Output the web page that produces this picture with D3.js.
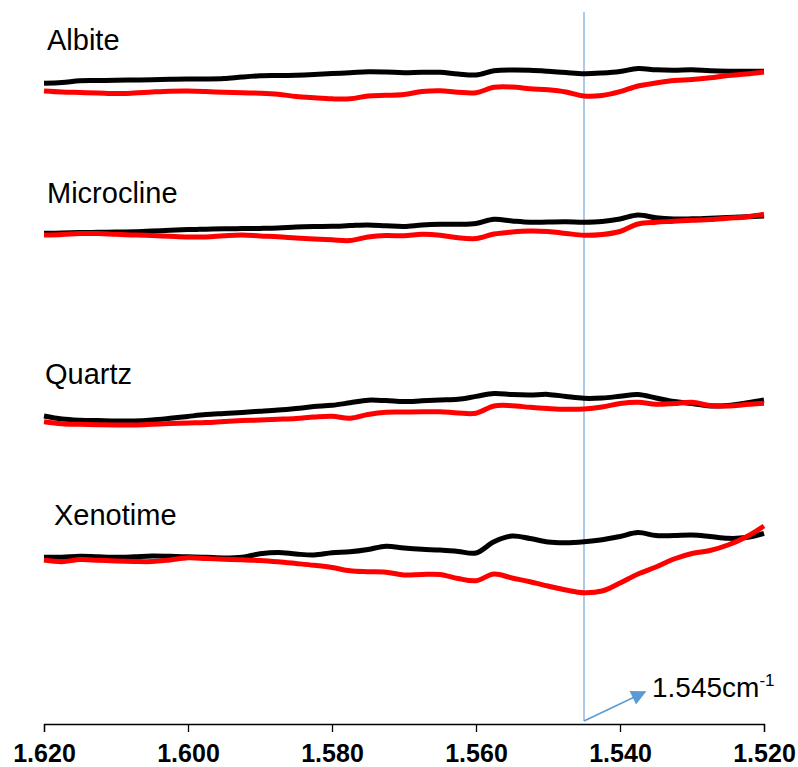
<!DOCTYPE html>
<html>
<head>
<meta charset="utf-8">
<script src="https://cdn.jsdelivr.net/npm/d3@7"></script>
<style>
  body { margin: 0; background: #fff; }
  svg { display: block; font-family: "Liberation Sans", Arial, sans-serif; }
</style>
</head>
<body>
<svg id="chart" width="798" height="767"></svg>
<script>
var wavenumbers = d3.range(41).map(function(i) { return +(1.620 - i * 0.0025).toFixed(4); });

var minerals = ["Albite", "Microcline", "Quartz", "Xenotime"];

var albiteBlack = [640.7, 641.5, 643.3, 643.5, 643.7, 644, 644.3, 644.7, 645, 645, 645.4, 647, 648.2, 648.5, 648.8, 649.5, 650.5, 651.2, 652.2, 652, 651.3, 651.8, 651.7, 650, 649, 653.2, 654, 653.7, 652.7, 651.4, 650.3, 651, 652.5, 655.5, 654.2, 653.8, 654.3, 653.2, 652.7, 652.7, 652.7];
var albiteRed = [633, 632, 631.5, 631, 630.4, 631, 632, 632.8, 633, 632.5, 631.7, 631.2, 630.8, 629.8, 627.5, 626.2, 625.2, 625.2, 628, 628.7, 629.5, 632.5, 633.3, 631.7, 631.3, 636.7, 637, 635.3, 634.2, 632, 628, 628.5, 632.3, 638, 641, 643.5, 644.5, 646.2, 648.5, 650, 652];

var microclineBlack = [490.7, 491, 491.4, 491.7, 492, 492.3, 493, 493.7, 494.4, 494.8, 495.2, 495.4, 495.6, 496, 497, 497.5, 497.7, 498.4, 499, 498.2, 497.5, 499, 499.7, 499.7, 500.5, 504.7, 503, 501.7, 502, 502.2, 501.7, 502.4, 505, 509, 506.2, 505, 505.2, 505.8, 506.4, 507.2, 508];
var microclineRed = [489, 489.5, 490.5, 490.5, 489.7, 489, 488.5, 487.7, 487, 487, 488.2, 489, 488, 487.2, 486, 485, 484.2, 483.4, 487, 488.5, 488.2, 489.7, 488.8, 486.2, 485.5, 490, 492, 493, 492.5, 490.6, 488.7, 489.5, 492.5, 500, 501.8, 502.7, 503.8, 504.5, 505.8, 507.1, 509.7];

var quartzBlack = [308, 305, 303.8, 303.4, 303, 303, 304, 305.7, 307.6, 309.4, 310.5, 311.6, 312.7, 313.9, 315.5, 317.4, 318.7, 321.2, 323.8, 323.4, 322.4, 323.2, 324, 324.7, 327.6, 330.5, 329.4, 329, 329.6, 327.5, 325.7, 326, 327.7, 329.5, 326, 322.5, 320.5, 318, 318.6, 321, 324];
var quartzRed = [302.3, 300.3, 299.7, 299.3, 299, 299, 299.7, 300.5, 301, 301.4, 302.5, 303.4, 304, 304.7, 305.5, 307, 307.8, 305.7, 309.5, 311.8, 312, 312.2, 312.3, 311, 310.8, 318, 318.3, 316.7, 315.5, 314.7, 315, 317, 320.5, 321.8, 319.7, 320.5, 321.7, 318.4, 318, 319.4, 320.7];

var xenotimeBlack = [166.7, 166.8, 167.8, 167.2, 166.7, 167.2, 168, 167.7, 167.2, 166.7, 166, 166.7, 170.2, 171.6, 170, 169, 171.2, 172.2, 174.5, 177.8, 176, 174.7, 174, 172.6, 171, 182.3, 188, 185.5, 182, 181.3, 182.3, 184.2, 187.5, 191.4, 188.4, 188.5, 189, 187.5, 185.7, 186.4, 190.7];
var xenotimeRed = [164, 162.3, 164.4, 163.8, 163, 162.5, 162.4, 164.1, 166.2, 165.5, 164.7, 164.2, 163.5, 162.2, 160.5, 158.7, 156.5, 153.2, 152.3, 151.8, 149, 149.6, 149.5, 145.5, 143.3, 150, 146, 142.3, 138, 134, 131.3, 133, 141, 150, 157, 165, 170.5, 173.5, 179, 187, 198];

var labelValues = [674, 521, 340, 199];
var labelShift = [0, 0, -2, 7];

var xTicks = [1.620, 1.600, 1.580, 1.560, 1.540, 1.520];
var markerValue = 1.545;

var svg = d3.select("#chart");

var x = d3.scaleLinear().domain([1.620, 1.520]).range([44, 764]);
var y = d3.scaleLinear().domain([0, 710]).range([724, 14]);

var series = [
  { black: albiteBlack, red: albiteRed },
  { black: microclineBlack, red: microclineRed },
  { black: quartzBlack, red: quartzRed },
  { black: xenotimeBlack, red: xenotimeRed }
];

var line = d3.line()
  .x(function(d) { return x(d[0]); })
  .y(function(d) { return y(d[1]); })
  .curve(d3.curveCatmullRom.alpha(0.5));

function points(vals) {
  return wavenumbers.map(function(w, j) { return [w, vals[j]]; });
}

var axis = d3.axisBottom(x)
  .tickValues(xTicks)
  .tickSize(8)
  .tickFormat(d3.format(".3f"));

var gAxis = svg.append("g")
  .attr("transform", "translate(0," + y(0) + ")")
  .call(axis);

gAxis.select(".domain").attr("stroke", "#000").attr("stroke-width", 1.3);
gAxis.selectAll(".tick line").attr("stroke", "#000").attr("stroke-width", 1.3);
gAxis.selectAll(".tick text")
  .attr("y", 20)
  .attr("dy", "0.71em")
  .attr("fill", "#000")
  .style("font-size", "25px")
  .style("font-weight", "bold")
  .style("font-family", "'Liberation Sans', Arial, sans-serif");

// marker line at 1.545
svg.append("line")
  .attr("x1", x(markerValue))
  .attr("x2", x(markerValue))
  .attr("y1", y(712))
  .attr("y2", y(3))
  .attr("stroke", "#8fb8e0")
  .attr("stroke-width", 1.5);

// black first, red on top
["black", "red"].forEach(function(key) {
  svg.selectAll(".trace-" + key)
    .data(series)
    .enter()
    .append("path")
    .attr("class", "trace-" + key)
    .attr("d", function(d) { return line(points(d[key])); })
    .attr("fill", "none")
    .attr("stroke", key === "red" ? "#ff0000" : "#000000")
    .attr("stroke-width", 5)
    .attr("stroke-linejoin", "round");
});

svg.selectAll(".mineral")
  .data(minerals)
  .enter()
  .append("text")
  .attr("class", "mineral")
  .attr("x", function(d, i) { return 47 + labelShift[i]; })
  .attr("y", function(d, i) { return y(labelValues[i]); })
  .attr("fill", "#000")
  .style("font-size", "29px")
  .text(function(d) { return d; });

// arrow annotation
svg.append("defs").append("marker")
  .attr("id", "arrowhead")
  .attr("viewBox", "0 0 10 10")
  .attr("refX", 9)
  .attr("refY", 5)
  .attr("markerWidth", 17)
  .attr("markerHeight", 15)
  .attr("markerUnits", "userSpaceOnUse")
  .attr("orient", "auto")
  .append("path")
  .attr("d", "M0,0L10,5L0,10z")
  .attr("fill", "#5b9bd5");

svg.append("line")
  .attr("x1", x(markerValue))
  .attr("y1", y(3))
  .attr("x2", x(markerValue) + 61)
  .attr("y2", y(3) - 29)
  .attr("stroke", "#5b9bd5")
  .attr("stroke-width", 1.5)
  .attr("marker-end", "url(#arrowhead)");

var note = svg.append("text")
  .attr("x", x(markerValue) + 68)
  .attr("y", y(27))
  .attr("fill", "#000")
  .style("font-size", "28px");
note.append("tspan").text(markerValue.toFixed(3) + "cm");
note.append("tspan")
  .attr("dy", -11)
  .style("font-size", "17px")
  .text("-1");
</script>
</body>
</html>
